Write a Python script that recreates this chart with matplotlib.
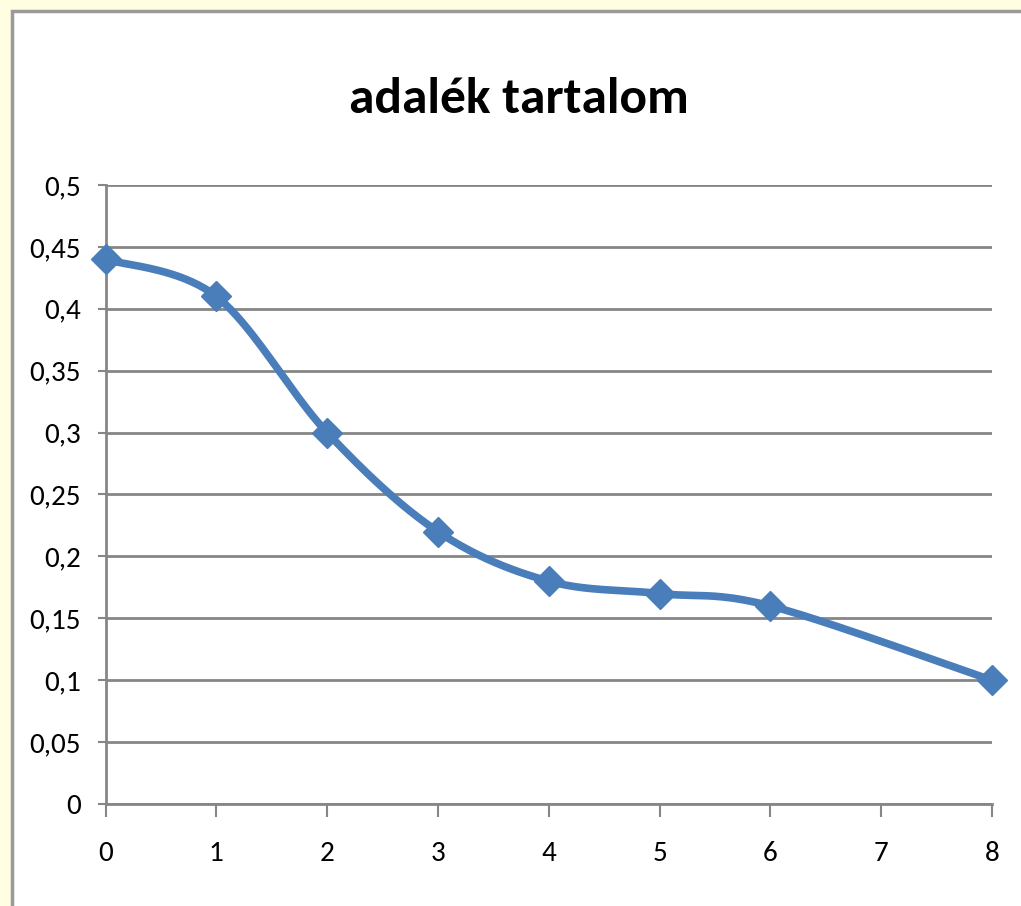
import numpy as np
import matplotlib
matplotlib.use('Agg')
import matplotlib.pyplot as plt
from matplotlib.patches import Rectangle
from matplotlib.ticker import FuncFormatter, MultipleLocator

# data (no point at x=7)
x_vals = [0, 1, 2, 3, 4, 5, 6, 8]
y_vals = [0.44, 0.41, 0.30, 0.22, 0.18, 0.17, 0.16, 0.10]
title = 'adalék tartalom'

LINE_COLOR = '#4a7ebb'
GRID_COLOR = '#868686'
BG_COLOR = '#fffde2'
FONT = ['Carlito', 'Sofia Sans Semi Condensed', 'DejaVu Sans']


def smooth(xs, ys, n=40):
    # excel style smoothing: catmull-rom through the points
    p = np.column_stack([xs, ys]).astype(float)
    p = np.vstack([p[0], p, p[-1]])
    out = []
    t = np.linspace(0, 1, n)[:, None]
    for i in range(1, len(p) - 2):
        p0, p1, p2, p3 = p[i - 1], p[i], p[i + 1], p[i + 2]
        c1 = p1 + (p2 - p0) / 6
        c2 = p2 - (p3 - p1) / 6
        seg = ((1 - t)**3 * p1 + 3 * (1 - t)**2 * t * c1
               + 3 * (1 - t) * t**2 * c2 + t**3 * p2)
        out.append(seg if i == 1 else seg[1:])
    out = np.vstack(out)
    return out[:, 0], out[:, 1]


plt.rcParams['font.family'] = FONT

fig = plt.figure(figsize=(10.21, 9.06), dpi=100)
fig.patch.set_facecolor(BG_COLOR)

# white chart area with grey frame
fig.patches.append(Rectangle((12 / 1021, -0.05), 1.1, 1 - 11 / 906 + 0.05,
                             transform=fig.transFigure, facecolor='white',
                             edgecolor='#9a9a9a', linewidth=2.5, zorder=-5))

ax = fig.add_axes([105.5 / 1021, 1 - 804 / 906, (992 - 105.5) / 1021, (804 - 185) / 906])
ax.set_facecolor('none')
ax.set_zorder(2)

sx, sy = smooth(x_vals, y_vals)
ax.plot(sx, sy, color=LINE_COLOR, linewidth=5.5, solid_capstyle='round',
        zorder=3, clip_on=False)
ax.plot(x_vals, y_vals, linestyle='none', marker='D', markersize=15,
        color=LINE_COLOR, zorder=4, clip_on=False)

ax.set_xlim(0, 8)
ax.set_ylim(0, 0.5)
ax.xaxis.set_major_locator(MultipleLocator(1))
ax.yaxis.set_major_locator(MultipleLocator(0.05))
ax.yaxis.set_major_formatter(FuncFormatter(
    lambda v, _: ('%.2f' % v).rstrip('0').rstrip('.').replace('.', ',') if v else '0'))

ax.grid(True, axis='y', color=GRID_COLOR, linewidth=2)
ax.set_axisbelow(True)
for side in ['top', 'right']:
    ax.spines[side].set_visible(False)
for side in ['left', 'bottom']:
    ax.spines[side].set_color(GRID_COLOR)
    ax.spines[side].set_linewidth(2)

ax.tick_params(axis='y', length=6, width=1.5, color=GRID_COLOR, pad=12,
               labelsize=21, labelcolor='black')
ax.tick_params(axis='x', length=9.5, width=1.5, color=GRID_COLOR, pad=17,
               labelsize=21, labelcolor='black')

fig.text(519 / 1021, 1 - 113 / 906, title, ha='center', va='baseline',
         fontsize=37, fontweight='bold')

fig.savefig('out.png', dpi=100, facecolor=fig.get_facecolor())
